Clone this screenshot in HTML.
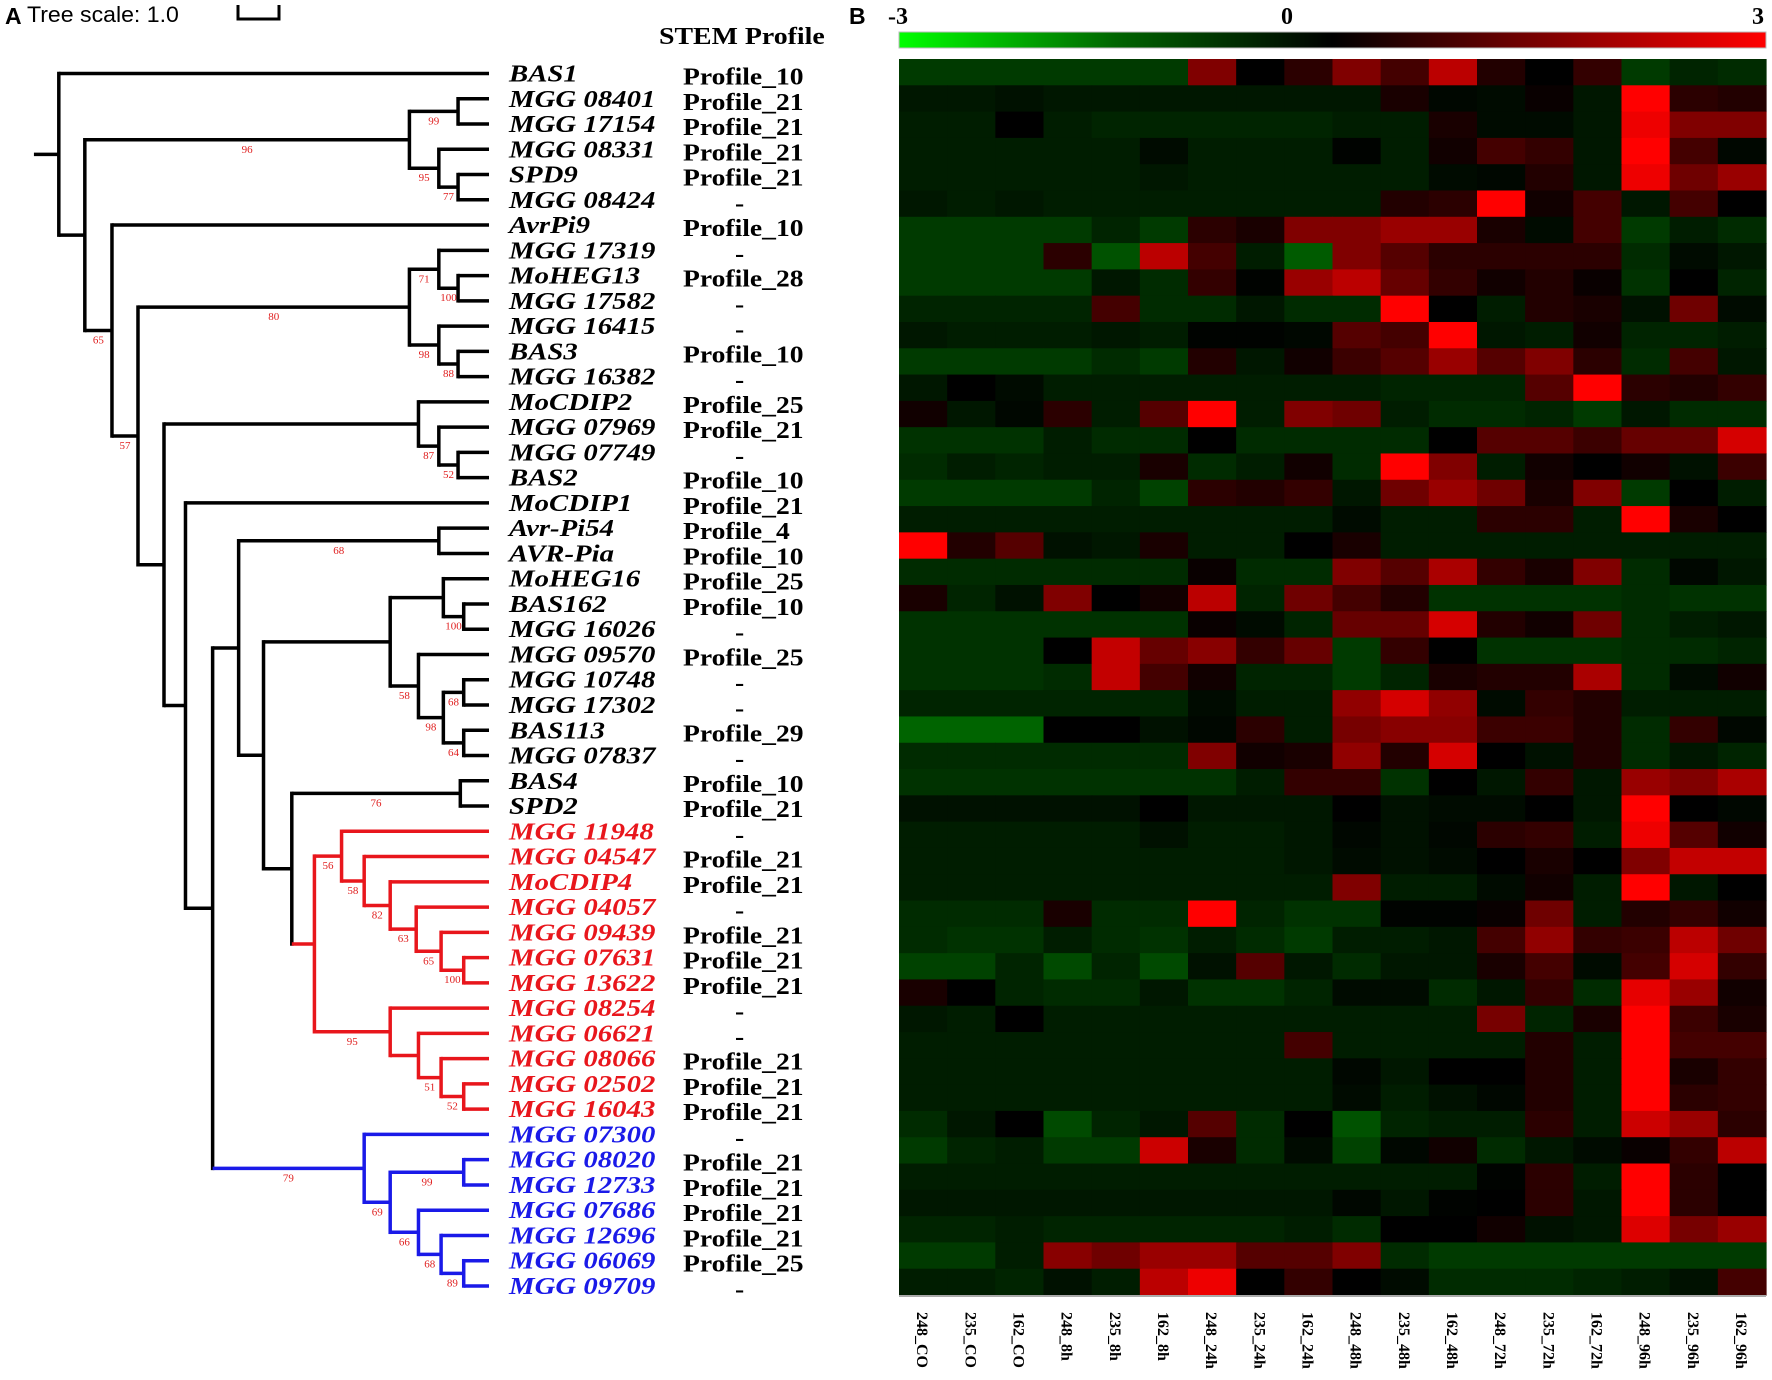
<!DOCTYPE html>
<html><head><meta charset="utf-8"><style>
html,body{margin:0;padding:0;background:#fff;}
svg{display:block;}
</style></head><body>
<svg id="fig" width="1772" height="1380" viewBox="0 0 1772 1380" xmlns="http://www.w3.org/2000/svg">
<defs>
<linearGradient id="cb" x1="0" x2="1" y1="0" y2="0">
<stop offset="0" stop-color="#00ff00"/><stop offset="0.25" stop-color="#006400"/><stop offset="0.5" stop-color="#000"/><stop offset="0.75" stop-color="#800000"/><stop offset="1" stop-color="#ff0000"/>
</linearGradient>
</defs>
<text x="5" y="24" font-family="Liberation Sans, sans-serif" font-weight="bold" font-size="23">A</text>
<text font-family="Liberation Sans, sans-serif" font-size="22" transform="translate(27,22) scale(1.05,1)">Tree scale: 1.0</text>
<path d="M238 5 V19 H279 V5" fill="none" stroke="#000" stroke-width="3"/>
<text font-family="Liberation Serif, serif" font-weight="bold" font-size="24" transform="translate(659,44) scale(1.16,1)">STEM Profile</text>
<text x="849" y="24" font-family="Liberation Sans, sans-serif" font-weight="bold" font-size="23">B</text>
<text x="888" y="24" font-family="Liberation Serif, serif" font-weight="bold" font-size="24">-3</text>
<text x="1281" y="24" font-family="Liberation Serif, serif" font-weight="bold" font-size="24">0</text>
<text x="1752" y="24" font-family="Liberation Serif, serif" font-weight="bold" font-size="24">3</text>
<rect x="899" y="32" width="867" height="16" fill="url(#cb)" stroke="#bbb" stroke-width="1"/>
<g id="tree"></g>
<g id="heat"></g>
</svg>
<script>
const leafNames = ["BAS1","MGG 08401","MGG 17154","MGG 08331","SPD9","MGG 08424","AvrPi9","MGG 17319","MoHEG13","MGG 17582","MGG 16415","BAS3","MGG 16382","MoCDIP2","MGG 07969","MGG 07749","BAS2","MoCDIP1","Avr-Pi54","AVR-Pia","MoHEG16","BAS162","MGG 16026","MGG 09570","MGG 10748","MGG 17302","BAS113","MGG 07837","BAS4","SPD2","MGG 11948","MGG 04547","MoCDIP4","MGG 04057","MGG 09439","MGG 07631","MGG 13622","MGG 08254","MGG 06621","MGG 08066","MGG 02502","MGG 16043","MGG 07300","MGG 08020","MGG 12733","MGG 07686","MGG 12696","MGG 06069","MGG 09709"];
const profiles = ["Profile_10","Profile_21","Profile_21","Profile_21","Profile_21","-","Profile_10","-","Profile_28","-","-","Profile_10","-","Profile_25","Profile_21","-","Profile_10","Profile_21","Profile_4","Profile_10","Profile_25","Profile_10","-","Profile_25","-","-","Profile_29","-","Profile_10","Profile_21","-","Profile_21","Profile_21","-","Profile_21","Profile_21","Profile_21","-","-","Profile_21","Profile_21","Profile_21","-","Profile_21","Profile_21","Profile_21","Profile_21","Profile_25","-"];
const columns = ["248_CO","235_CO","162_CO","248_8h","235_8h","162_8h","248_24h","235_24h","162_24h","248_48h","235_48h","162_48h","248_72h","235_72h","162_72h","248_96h","235_96h","162_96h"];
const values = [
[-1,-1,-1,-1,-1,-1,1.5,0,0.5,1.5,0.8,2.2,0.4,0,0.6,-1,-0.7,-0.8],
[-0.5,-0.5,-0.4,-0.5,-0.5,-0.5,-0.5,-0.5,-0.5,-0.5,0.3,-0.2,-0.3,0.1,-0.5,3,0.5,0.4],
[-0.6,-0.6,0,-0.6,-0.7,-0.7,-0.7,-0.7,-0.7,-0.6,-0.6,0.3,-0.3,-0.3,-0.5,2.8,1.5,1.5],
[-0.6,-0.6,-0.6,-0.6,-0.6,-0.3,-0.6,-0.6,-0.6,-0.1,-0.6,0.2,0.8,0.6,-0.5,3,0.8,-0.2],
[-0.6,-0.6,-0.6,-0.6,-0.6,-0.5,-0.6,-0.6,-0.6,-0.6,-0.6,-0.3,-0.2,0.4,-0.5,2.8,1.3,1.8],
[-0.5,-0.6,-0.5,-0.6,-0.6,-0.6,-0.6,-0.6,-0.6,-0.6,0.4,0.5,3,0.2,0.8,-0.5,0.8,0],
[-1,-1,-1,-1,-0.7,-1,0.5,0.3,1.5,1.5,1.8,1.8,0.3,-0.3,0.8,-1,-0.6,-0.8],
[-1,-1,-1,0.5,-1.3,2.2,0.8,-0.6,-1.4,1.5,1,0.5,0.5,0.5,0.5,-0.8,-0.3,-0.5],
[-1,-1,-1,-1,-0.5,-0.8,0.6,-0.1,1.8,2.2,1.2,0.6,0.2,0.4,0.1,-0.9,0,-0.7],
[-0.7,-0.7,-0.7,-0.7,0.8,-0.8,-0.8,-0.5,-0.8,-0.8,3,0,-0.6,0.4,0.3,-0.4,1.3,-0.3],
[-0.5,-0.6,-0.6,-0.6,-0.5,-0.6,-0.1,-0.1,-0.2,1,0.8,3,-0.5,-0.6,0.2,-0.7,-0.7,-0.6],
[-1,-1,-1,-1,-0.8,-1,0.4,-0.5,0.2,0.7,1,1.8,1,1.5,0.5,-0.8,0.8,-0.5],
[-0.5,0,-0.3,-0.6,-0.6,-0.6,-0.6,-0.6,-0.6,-0.6,-0.7,-0.7,-0.7,1,3,0.5,0.4,0.6],
[0.2,-0.5,-0.2,0.5,-0.6,1,3,-0.6,1.5,1.3,-0.6,-0.8,-0.8,-0.7,-1,-0.5,-0.8,-0.8],
[-0.9,-0.9,-0.9,-0.6,-0.8,-0.8,0,-0.8,-0.8,-0.8,-0.8,0,1,1,0.7,1.2,1.2,2.5],
[-0.8,-0.6,-0.7,-0.6,-0.6,0.3,-0.8,-0.6,0.2,-0.8,3,1.5,-0.6,0.2,0,0.2,-0.4,0.7],
[-1,-1,-1,-1,-0.7,-1.1,0.5,0.4,0.6,-0.5,1.3,1.8,1.3,0.3,1.5,-1,0,-0.6],
[-0.6,-0.6,-0.6,-0.6,-0.6,-0.6,-0.6,-0.6,-0.6,-0.3,-0.6,-0.6,0.5,0.5,-0.6,3,0.3,0],
[3,0.4,1,-0.4,-0.5,0.3,-0.6,-0.6,0,0.3,-0.6,-0.6,-0.6,-0.6,-0.6,-0.6,-0.6,-0.6],
[-0.8,-0.8,-0.8,-0.8,-0.8,-0.8,0.1,-0.8,-0.8,1.5,1,2,0.6,0.3,1.5,-0.8,-0.2,-0.5],
[0.3,-0.7,-0.4,1.5,0,0.2,2.2,-0.7,1.3,0.8,0.4,-0.9,-0.9,-0.9,-0.9,-0.8,-0.9,-0.9],
[-0.9,-0.9,-0.9,-0.9,-0.9,-0.9,0.1,-0.3,-0.7,1.2,1.2,2.5,0.4,0.2,1.3,-0.8,-0.6,-0.5],
[-0.9,-0.9,-0.9,0,2.3,1.2,1.6,0.6,1.2,-1,0.6,0,-0.9,-0.9,-0.9,-0.8,-0.8,-0.7],
[-0.9,-0.9,-0.9,-0.8,2.3,0.8,0.2,-0.7,-0.7,-1,-0.7,0.3,0.4,0.4,2,-0.8,-0.3,0.2],
[-0.7,-0.7,-0.7,-0.7,-0.7,-0.7,-0.3,-0.6,-0.6,1.7,2.5,1.7,-0.3,0.6,0.4,-0.6,-0.6,-0.6],
[-1.5,-1.5,-1.5,0,0,-0.4,-0.2,0.5,-0.6,1.4,1.6,1.6,0.7,0.7,0.4,-0.8,0.6,-0.2],
[-0.8,-0.8,-0.8,-0.8,-0.8,-0.8,1.5,0.2,0.3,1.7,0.4,2.5,0,-0.4,0.4,-0.8,-0.5,-0.7],
[-0.9,-0.9,-0.9,-0.9,-0.9,-0.9,-0.9,-0.6,0.6,0.6,-0.9,0,-0.5,0.6,-0.5,1.8,1.5,2],
[-0.4,-0.4,-0.4,-0.4,-0.4,0,-0.5,-0.5,-0.5,0,-0.4,-0.3,-0.3,0,-0.5,3,0,-0.2],
[-0.6,-0.6,-0.6,-0.6,-0.6,-0.4,-0.6,-0.6,-0.5,-0.2,-0.4,-0.2,0.5,0.6,-0.6,2.8,1,0.2],
[-0.6,-0.6,-0.6,-0.6,-0.6,-0.6,-0.6,-0.6,-0.5,-0.3,-0.4,-0.3,0,0.3,0,1.5,2.3,2.3],
[-0.6,-0.6,-0.6,-0.6,-0.6,-0.6,-0.6,-0.6,-0.6,1.5,-0.6,-0.6,-0.3,0.2,-0.6,3,-0.5,0],
[-0.8,-0.8,-0.8,0.3,-0.8,-0.8,3,-0.7,-0.9,-0.9,-0.1,-0.1,0.1,1.3,-0.6,0.4,0.6,0.2],
[-0.8,-0.9,-0.9,-0.6,-0.8,-0.9,-0.6,-0.8,-1,-0.6,-0.6,-0.5,0.8,1.7,0.6,0.7,2.2,1.3],
[-1.1,-1.1,-0.7,-1.2,-0.7,-1.2,-0.4,1,-0.5,-0.8,-0.5,-0.5,0.3,0.8,-0.3,0.8,2.5,0.6],
[0.3,0,-0.7,-0.8,-0.8,-0.5,-0.9,-0.9,-0.7,-0.3,-0.3,-0.8,-0.5,0.6,-0.8,2.7,1.8,0.2],
[-0.5,-0.6,0,-0.6,-0.6,-0.6,-0.6,-0.6,-0.6,-0.6,-0.6,-0.6,1.4,-0.7,0.3,3,0.7,0.3],
[-0.6,-0.6,-0.6,-0.6,-0.6,-0.6,-0.6,-0.6,0.8,-0.6,-0.6,-0.6,-0.6,0.4,-0.6,3,0.8,0.8],
[-0.6,-0.6,-0.6,-0.6,-0.6,-0.6,-0.6,-0.6,-0.6,-0.2,-0.5,0,0,0.4,-0.6,3,0.3,0.6],
[-0.6,-0.6,-0.6,-0.6,-0.6,-0.6,-0.6,-0.6,-0.6,-0.3,-0.6,-0.4,-0.2,0.4,-0.6,3,0.5,0.6],
[-0.8,-0.5,0,-1.2,-0.7,-0.5,1,-0.8,0,-1.3,-0.7,-0.6,-0.6,0.5,-0.6,2.4,1.8,0.5],
[-1,-0.7,-0.6,-1,-1,2.4,0.3,-0.8,-0.3,-1.1,-0.2,0.2,-0.8,-0.5,-0.3,0.1,0.6,2.2],
[-0.6,-0.6,-0.6,-0.6,-0.6,-0.6,-0.6,-0.6,-0.6,-0.6,-0.6,-0.6,-0.1,0.5,-0.6,3,0.5,0],
[-0.5,-0.5,-0.5,-0.5,-0.5,-0.5,-0.5,-0.5,-0.5,-0.2,-0.5,-0.1,0,0.5,-0.5,3,0.5,0],
[-0.7,-0.7,-0.6,-0.7,-0.7,-0.7,-0.7,-0.7,-0.6,-0.8,0,0,0.2,-0.4,-0.5,2.6,1.4,1.8],
[-1,-1,-0.6,1.6,1.3,1.8,1.8,1,1,1.5,-0.8,-1,-1,-1,-1,-1,-1,-1],
[-0.6,-0.6,-0.7,-0.4,-0.6,2.2,2.8,0,0.6,0,-0.3,-0.8,-0.8,-0.8,-0.7,-0.6,-0.4,0.8]
];
const treeRoot = {x:52,c:[0,{x:75,c:[
 {x:362,b:96,c:[{x:405,b:99,c:[1,2]},{x:388,b:95,c:[3,{x:405,b:77,c:[4,5]}]}]},
 {x:99,b:65,c:[6,{x:122,b:57,c:[
   {x:362,b:80,c:[{x:388,b:71,c:[7,{x:405,b:100,c:[8,9]}]},{x:388,b:98,c:[10,{x:405,b:88,c:[11,12]}]}]},
   {x:145,c:[
     {x:370,c:[13,{x:388,b:87,c:[14,{x:405,b:52,c:[15,16]}]}]},
     {x:164,c:[17,{x:188,c:[
       {x:211,c:[{x:388,b:68,c:[18,19]},{x:233,c:[
         {x:345,c:[{x:392,c:[20,{x:410,b:100,c:[21,22]}]},{x:370,b:58,c:[23,{x:392,b:98,c:[{x:410,b:68,c:[24,25]},{x:410,b:64,c:[26,27]}]}]}]},
         {x:258,c:[{x:407,b:76,c:[28,29]},{x:278,col:"red",c:[
           {x:302,b:56,c:[30,{x:322,b:58,c:[31,{x:345,b:82,c:[32,{x:368,b:63,c:[33,{x:390,b:65,c:[34,{x:410,b:100,c:[35,36]}]}]}]}]}]},
           {x:345,b:95,c:[37,{x:370,c:[38,{x:390,b:51,c:[39,{x:410,b:52,c:[40,41]}]}]}]}]}]}]}]},
       {x:322,b:79,col:"blue",c:[42,{x:345,b:69,c:[{x:410,b:99,c:[43,44]},{x:370,b:66,c:[45,{x:390,b:68,c:[46,{x:410,b:89,c:[47,48]}]}]}]}]}
     ]}]}
   ]}
 ]}]}
]}]};
</script>
<script>
const NS="http://www.w3.org/2000/svg";
const S=1.131, LY0=73.5, LDY=25.26, TIPX=489;
const COLORS={black:"#000",red:"#e8161c",blue:"#1a1ae8"};
const tree=document.getElementById('tree');
function leafY(i){return LY0+LDY*i;}
function mk(tag,attrs,parent){const e=document.createElementNS(NS,tag);for(const k in attrs)e.setAttribute(k,attrs[k]);parent.appendChild(e);return e;}
const leafColor=new Array(leafNames.length).fill("black");
function nodeY(n){if(typeof n==="number")return leafY(n);const ys=n.c.map(nodeY);return (ys[0]+ys[ys.length-1])/2;}
function markColor(n,col){if(typeof n==="number"){leafColor[n]=col;return;}const c=n.col||col;n.c.forEach(ch=>markColor(ch,c));}
markColor(treeRoot,"black");
function draw(n,col){
 const c=n.col||col;const x=n.x*S;
 const ys=n.c.map(nodeY);
 const v=mk('line',{x1:x,x2:x,y1:ys[0],y2:ys[ys.length-1],stroke:COLORS[c],'stroke-width':3.5,'stroke-linecap':'square'},tree);
 
 
 n.c.forEach(ch=>{
  const cc=(typeof ch==="number")?c:(ch.col||c);
  const cy=nodeY(ch);const cx=(typeof ch==="number")?TIPX:ch.x*S;
  const h=mk('line',{x1:x,x2:cx,y1:cy,y2:cy,stroke:COLORS[cc],'stroke-width':3.5},tree);
  
  
  if(typeof ch!=="number"){
   if(ch.b!==undefined){
    const t=mk('text',{x:(x+cx)/2,y:cy+13,'text-anchor':'middle','font-family':'Liberation Serif, serif','font-size':11,fill:'#e02020'},tree);
    
    
    t.textContent=ch.b;
   }
   draw(ch,c);
  }
 });
}
const ry=nodeY(treeRoot);
const stub=mk('line',{x1:30*S,x2:treeRoot.x*S,y1:ry,y2:ry,stroke:'#000','stroke-width':3.5},tree);


draw(treeRoot,"black");
leafNames.forEach((nm,i)=>{
 const y=leafY(i);
 const t=mk('text',{transform:`translate(509,${y+8}) scale(1.2,1)`,'font-family':'Liberation Serif, serif','font-weight':'bold','font-style':'italic','font-size':24,fill:COLORS[leafColor[i]]},tree);
 
 
 t.textContent=nm;
 const p=profiles[i];
 const pt=mk('text',{transform:`translate(${p==="-"?735:683},${y+11}) scale(1.15,1)`,'font-family':'Liberation Serif, serif','font-weight':'bold','font-size':24,fill:'#000'},tree);
 
 
 pt.textContent=p;
});
const heat=document.getElementById('heat');
const HX0=899,HX1=1766,HY0=59,HY1=1295;
const cw=(HX1-HX0)/columns.length, rh=(HY1-HY0)/values.length;
function xPos(j){return HX0+j*cw;}
function yPos(i){return HY0+i*rh;}
function color(v){const t=Math.min(1,Math.abs(v)/3);
 if(v>=0){return `rgb(${Math.round(255*t)},0,0)`;}
 return `rgb(0,${Math.round(255*Math.pow(t,1.35))},0)`;}
values.forEach((row,i)=>{row.forEach((v,j)=>{
 const r=mk('rect',{x:xPos(j),y:yPos(i),width:cw+0.6,height:rh+0.6,fill:color(v)},heat);
 
 
});});
const bl=mk('line',{x1:HX0,x2:HX1,y1:HY1+1,y2:HY1+1,stroke:'#aaa','stroke-width':2},heat);


columns.forEach((c,j)=>{
 const t=mk('text',{transform:`translate(${xPos(j)+cw/2-6},1312) rotate(90)`,'font-family':'Liberation Serif, serif','font-weight':'bold','font-size':16,fill:'#000'},heat);
 
 
 t.textContent=c;
});
</script>
</body></html>
